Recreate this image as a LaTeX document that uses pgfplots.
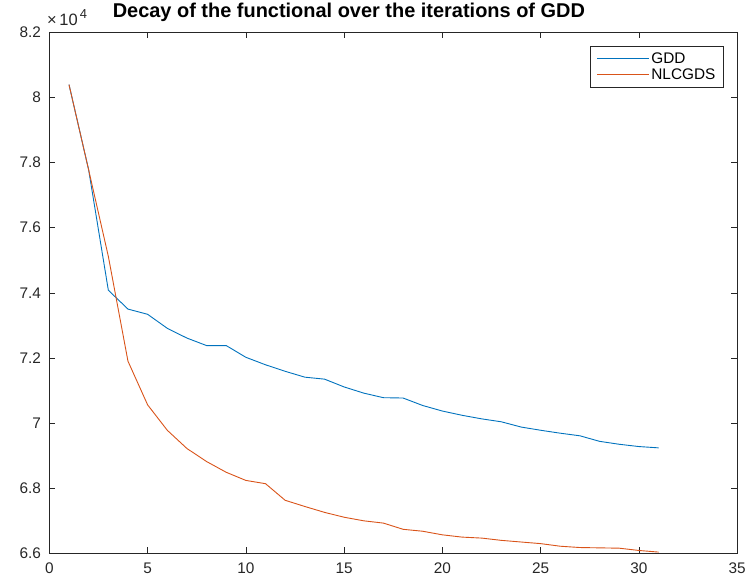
\documentclass[border=0pt]{standalone}
\usepackage{pgfplots}
\pgfplotsset{compat=1.18}
\usepackage{fontspec}
\setmainfont{Liberation Sans}
\definecolor{mblue}{rgb}{0,0.447,0.741}
\definecolor{morange}{rgb}{0.85,0.325,0.098}
\definecolor{axgray}{rgb}{0.15,0.15,0.15}
\begin{document}
\begin{tikzpicture}
\begin{axis}[
  name=ax,
  scale only axis,
  width=689.5pt, height=522.5pt,
  xmin=0, xmax=35, ymin=66000, ymax=82000,
  xtick={0,5,...,35},
  ytick={66000,68000,...,82000},
  scaled y ticks=base 10:-4,
  ytick scale label code/.code={{\fontsize{16.5}{19}\selectfont ×\,10\raisebox{7pt}{\fontsize{13}{14}\selectfont\,4}}},
  every y tick scale label/.style={at={(rel axis cs:0,1)}, anchor=base west, xshift=2.5pt, yshift=7pt, inner sep=0pt, text=axgray},
  /pgf/number format/assume math mode=true,
  /pgf/number format/.cd, fixed, precision=1, /pgfplots/.cd,
  tick align=inside,
  major tick length=6pt,
  axis line style={axgray, line width=0.6pt},
  tick style={axgray, line width=0.6pt},
  ticklabel style={font=\fontsize{15.4}{17}\selectfont, text=axgray},
  xticklabel style={yshift=-6pt},
  yticklabel style={xshift=-5pt},
  title={\textbf{Decay of the functional over the iterations of GDD}},
  title style={font=\fontsize{20}{22}\selectfont, at={(axis description cs:0.4355,1)}, anchor=base, yshift=9pt, inner sep=0pt},
  legend style={at={(axis description cs:1,1)}, anchor=north east, xshift=-13.5pt, yshift=-14pt,
     font=\fontsize{15.4}{18}\selectfont, draw=axgray, line width=0.6pt, inner xsep=6pt, inner ysep=4pt, row sep=0pt},
  legend cell align=left,
  legend image code/.code={\draw[#1] (0pt,0pt) -- (52pt,0pt);},
]
\addplot[draw=mblue, line width=0.9pt] coordinates {
(1,80390) (2,77770) (3,74080) (4,73500) (5,73340) (6,72910) (7,72610) (8,72380)
(9,72380) (10,72020) (11,71790) (12,71590) (13,71410) (14,71350) (15,71110)
(16,70920) (17,70780) (18,70770) (19,70540) (20,70370) (21,70240) (22,70130)
(23,70040) (24,69880) (25,69780) (26,69690) (27,69610) (28,69440) (29,69350)
(30,69280) (31,69240)
};
\addlegendentry{GDD}
\addplot[draw=morange, line width=0.9pt] coordinates {
(1,80390) (2,77770) (3,75120) (4,71900) (5,70560) (6,69780) (7,69220) (8,68820)
(9,68490) (10,68240) (11,68140) (12,67630) (13,67440) (14,67260) (15,67110)
(16,67000) (17,66930) (18,66740) (19,66680) (20,66570) (21,66500) (22,66470)
(23,66400) (24,66350) (25,66300) (26,66220) (27,66180) (28,66170) (29,66160)
(30,66090) (31,66040)
};
\addlegendentry{NLCGDS}
\end{axis}
\path ([shift={(-49.5pt,-30.3pt)}]ax.south west) rectangle ([shift={(10pt,32.3pt)}]ax.north east);
\end{tikzpicture}
\end{document}
